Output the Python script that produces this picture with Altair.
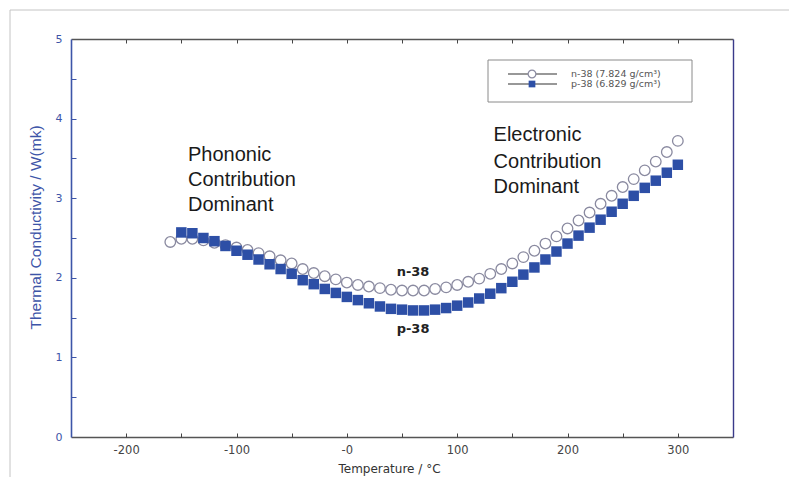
import altair as alt
import pandas as pd

# ---------------- data ----------------
temp_n = [-160, -150, -140, -130, -120, -110, -100, -90, -80, -70, -60, -50, -40, -30,
          -20, -10, 0, 10, 20, 30, 40, 50, 60, 70, 80, 90, 100, 110, 120, 130, 140,
          150, 160, 170, 180, 190, 200, 210, 220, 230, 240, 250, 260, 270, 280, 290, 300]
k_n = [2.45, 2.49, 2.49, 2.47, 2.44, 2.41, 2.38, 2.35, 2.31, 2.27, 2.22, 2.18, 2.11, 2.06,
       2.02, 1.98, 1.94, 1.91, 1.89, 1.87, 1.85, 1.84, 1.84, 1.84, 1.86, 1.88, 1.91, 1.95,
       1.99, 2.05, 2.11, 2.18, 2.26, 2.34, 2.43, 2.52, 2.62, 2.72, 2.82, 2.93, 3.03, 3.14,
       3.24, 3.35, 3.46, 3.58, 3.72]

temp_p = [-150, -140, -130, -120, -110, -100, -90, -80, -70, -60, -50, -40, -30,
          -20, -10, 0, 10, 20, 30, 40, 50, 60, 70, 80, 90, 100, 110, 120, 130, 140,
          150, 160, 170, 180, 190, 200, 210, 220, 230, 240, 250, 260, 270, 280, 290, 300]
k_p = [2.57, 2.56, 2.50, 2.46, 2.40, 2.34, 2.29, 2.23, 2.17, 2.11, 2.05, 1.97, 1.92,
       1.86, 1.81, 1.76, 1.72, 1.68, 1.64, 1.61, 1.60, 1.59, 1.59, 1.60, 1.62, 1.65,
       1.69, 1.74, 1.80, 1.87, 1.95, 2.04, 2.13, 2.23, 2.33, 2.43, 2.53, 2.63, 2.73,
       2.83, 2.93, 3.03, 3.13, 3.22, 3.32, 3.42]

series_labels = ["n-38 (7.824 g/cm³)", "p-38 (6.829 g/cm³)"]

x_label_values = [-200, -100, 0, 100, 200, 300]
x_tick_values = [-200, -150, -100, -50, 0, 50, 100, 150, 200, 250, 300]
y_label_values = [0, 1, 2, 3, 4, 5]
y_tick_values = [0.5, 1, 1.5, 2, 2.5, 3, 3.5, 4, 4.5]

big_text = ["Phononic", "Contribution", "Dominant", "Electronic", "Contribution", "Dominant"]
big_text_x = [-144, -144, -144, 133, 133, 133]
big_text_y = [3.54, 3.23, 2.91, 3.80, 3.46, 3.14]

small_text = ["n-38", "p-38"]
small_text_x = [60, 60]
small_text_y = [2.07, 1.36]

# ---------------- styling ----------------
BLUE_AXIS = "#3d55a8"
NAVY = "#3a3a8a"
SQ_BLUE = "#2d4fa6"
CIRC_STROKE = "#8a8aa0"
GRAY_AXIS = "#555555"

W, H = 662, 398

x_scale = alt.Scale(domain=[-250, 350], nice=False, zero=False)
y_scale = alt.Scale(domain=[0, 5], nice=False, zero=True)

df_n = pd.DataFrame({"T": temp_n, "k": k_n})
df_p = pd.DataFrame({"T": temp_p, "k": k_p})
df_big = pd.DataFrame({"x": big_text_x, "y": big_text_y, "t": big_text})
df_small = pd.DataFrame({"x": small_text_x, "y": small_text_y, "t": small_text})
one = pd.DataFrame({"a": [0]})

circles = alt.Chart(df_n).mark_point(
    shape="circle", filled=True, fill="white", stroke=CIRC_STROKE,
    strokeWidth=1.3, size=112, opacity=1
).encode(
    x=alt.X("T:Q", scale=x_scale, axis=alt.Axis(
        orient="bottom", values=x_label_values,
        labelExpr="datum.value == 0 ? '-0' : '' + datum.value",
        ticks=False, tickSize=0, domainColor=GRAY_AXIS, domainWidth=1.6,
        labelFont="DejaVu Sans", labelFontSize=11.5, labelColor="#444444",
        labelPadding=7, grid=False,
        title="Temperature / °C", titleFont="DejaVu Sans", titleFontSize=12,
        titleFontWeight="normal", titleColor="#333333",
        titleX=318, titleY=26, titleBaseline="top", titleAlign="center")),
    y=alt.Y("k:Q", scale=y_scale, axis=alt.Axis(
        orient="left", values=y_label_values, format="d",
        ticks=False, tickSize=0, domainColor=BLUE_AXIS, domainWidth=1.6,
        labelFont="DejaVu Sans", labelFontSize=11, labelColor=BLUE_AXIS,
        labelPadding=9, grid=False,
        title="Thermal Conductivity / W(mk)", titleFont="Liberation Sans",
        titleFontSize=15.5, titleFontWeight="normal", titleColor=BLUE_AXIS,
        titleAngle=270, titleX=-36, titleY=188, titleAlign="center",
        titleBaseline="middle")),
)

squares = alt.Chart(df_p).mark_square(size=110, color=SQ_BLUE, opacity=1).encode(
    x=alt.X("T:Q", scale=x_scale, axis=alt.Axis(
        orient="top", offset=-H, values=x_tick_values, labels=False, domain=False,
        ticks=True, tickSize=4, tickColor="#444444", tickWidth=1, grid=False, title=None)),
    y=alt.Y("k:Q", scale=y_scale, axis=alt.Axis(
        orient="right", offset=-W, values=y_tick_values, labels=False, domain=False,
        ticks=True, tickSize=5, tickColor=BLUE_AXIS, tickWidth=1, grid=False, title=None)),
)

ann_big = alt.Chart(df_big).mark_text(
    align="left", baseline="middle", font="Liberation Sans", fontSize=20,
    color="#1a1a1a"
).encode(
    x=alt.X("x:Q", scale=x_scale, axis=alt.Axis(
        orient="bottom", offset=-H, values=x_tick_values, labels=False,
        domain=True, domainColor=GRAY_AXIS, domainWidth=1.6,
        ticks=True, tickSize=4, tickColor="#444444", grid=False, title=None)),
    y=alt.Y("y:Q", scale=y_scale, axis=alt.Axis(
        orient="right", labels=False, ticks=False, tickSize=0, domain=True,
        domainColor=NAVY, domainWidth=1.4, grid=False, title=None)),
    text="t:N",
)

ann_small = alt.Chart(df_small).mark_text(
    align="center", baseline="middle", font="DejaVu Sans", fontSize=13,
    fontWeight="bold", color="#222222"
).encode(
    x=alt.X("x:Q", scale=x_scale, axis=None),
    y=alt.Y("y:Q", scale=y_scale, axis=None),
    text="t:N",
)

# ---------------- legend (decoration) ----------------
leg_box = alt.Chart(one).mark_rect(fill="white", stroke="#8a8a8a", strokeWidth=1).encode(
    x=alt.value(417), x2=alt.value(621), y=alt.value(21), y2=alt.value(63))
leg_line1 = alt.Chart(one).mark_rule(color="#333333", strokeWidth=1.2).encode(
    x=alt.value(437), x2=alt.value(486), y=alt.value(35))
leg_line2 = alt.Chart(one).mark_rule(color="#333333", strokeWidth=1.2).encode(
    x=alt.value(437), x2=alt.value(486), y=alt.value(45))
leg_pt1 = alt.Chart(one).mark_point(shape="circle", filled=True, fill="white",
                                    stroke=CIRC_STROKE, strokeWidth=1.2, size=60,
                                    opacity=1).encode(x=alt.value(461), y=alt.value(35))
leg_pt2 = alt.Chart(one).mark_square(size=45, color=SQ_BLUE, opacity=1).encode(
    x=alt.value(461), y=alt.value(45))
leg_t1 = alt.Chart(one).mark_text(align="left", baseline="middle", font="DejaVu Sans",
                                  fontSize=9.5, color="#555555",
                                  text=series_labels[0]).encode(
    x=alt.value(500), y=alt.value(35))
leg_t2 = alt.Chart(one).mark_text(align="left", baseline="middle", font="DejaVu Sans",
                                  fontSize=9.5, color="#555555",
                                  text=series_labels[1]).encode(
    x=alt.value(500), y=alt.value(45))

# ---------------- outer frame (decoration) ----------------
FRAME = "#c4c4c4"
fr_top = alt.Chart(one).mark_rule(color=FRAME, strokeWidth=1).encode(
    x=alt.value(-61), x2=alt.value(720), y=alt.value(-29))
fr_left = alt.Chart(one).mark_rule(color=FRAME, strokeWidth=1).encode(
    x=alt.value(-61), y=alt.value(-29), y2=alt.value(460))
fr_right = alt.Chart(one).mark_rule(color=FRAME, strokeWidth=1).encode(
    x=alt.value(720), y=alt.value(-29), y2=alt.value(460))

chart = alt.layer(
    fr_top, fr_left, fr_right,
    circles, squares, ann_big, ann_small,
    leg_box, leg_line1, leg_line2, leg_pt1, leg_pt2, leg_t1, leg_t2,
).resolve_axis(x="independent", y="independent").properties(
    width=W, height=H,
    autosize=alt.AutoSizeParams(type="none"),
    padding={"left": 63, "top": 31, "right": 56, "bottom": 40},
    background="white",
).configure_view(stroke=None)

chart.save("out.html", embed_options={"renderer": "svg", "actions": False})
